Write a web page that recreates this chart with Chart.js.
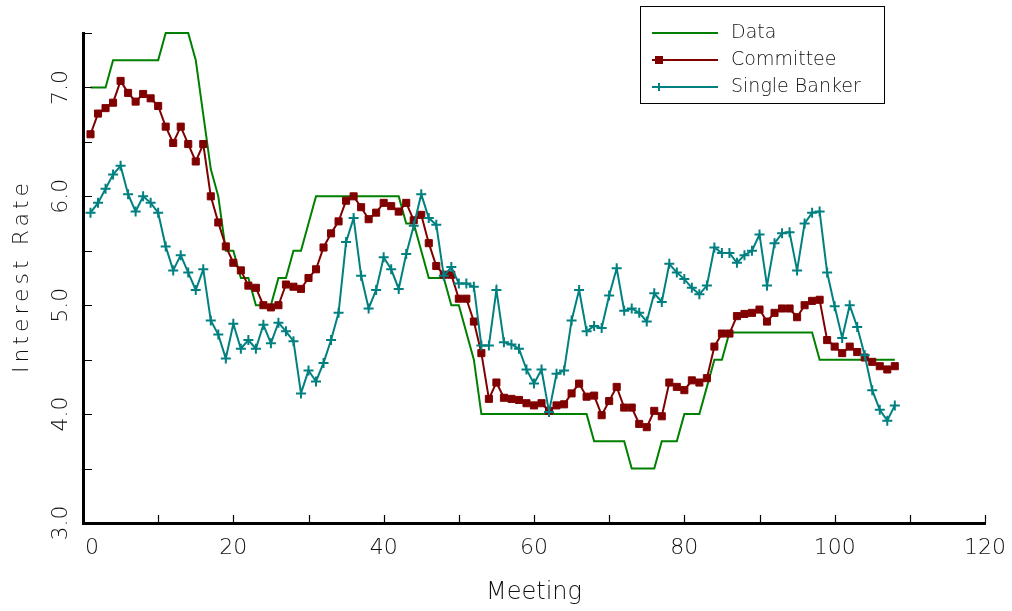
<!DOCTYPE html>
<html>
<head>
<meta charset="utf-8">
<script src="https://cdn.jsdelivr.net/npm/chart.js@4/dist/chart.umd.min.js"></script>
<style>
  html, body { margin: 0; padding: 0; background: #fff; }
  #wrap { width: 1012px; height: 611px; }
</style>
</head>
<body>
<div id="wrap"><canvas id="rates" width="1012" height="611"></canvas></div>
<script>
// meetings 1..108
var meetings = [];
for (var i = 1; i <= 108; i++) meetings.push(i);

var dataRate = [
  7.0, 7.0, 7.0, 7.25, 7.25, 7.25, 7.25, 7.25, 7.25, 7.25,
  7.5, 7.5, 7.5, 7.5, 7.25, 6.75, 6.25, 6.0, 5.5, 5.5,
  5.25, 5.25, 5.0, 5.0, 5.0, 5.25, 5.25, 5.5, 5.5, 5.75,
  6.0, 6.0, 6.0, 6.0, 6.0, 6.0, 6.0, 6.0, 6.0, 6.0,
  6.0, 6.0, 5.75, 5.75, 5.5, 5.25, 5.25, 5.25, 5.0, 5.0,
  4.75, 4.5, 4.0, 4.0, 4.0, 4.0, 4.0, 4.0, 4.0, 4.0,
  4.0, 4.0, 4.0, 4.0, 4.0, 4.0, 4.0, 3.75, 3.75, 3.75,
  3.75, 3.75, 3.5, 3.5, 3.5, 3.5, 3.75, 3.75, 3.75, 4.0,
  4.0, 4.0, 4.25, 4.5, 4.5, 4.75, 4.75, 4.75, 4.75, 4.75,
  4.75, 4.75, 4.75, 4.75, 4.75, 4.75, 4.75, 4.5, 4.5, 4.5,
  4.5, 4.5, 4.5, 4.5, 4.5, 4.5, 4.5, 4.5
];

var committee = [
  6.57, 6.76, 6.81, 6.86, 7.06, 6.95, 6.87, 6.94, 6.90, 6.83,
  6.64, 6.49, 6.64, 6.48, 6.32, 6.48, 6.00, 5.76, 5.54, 5.39,
  5.32, 5.18, 5.16, 5.00, 4.98, 5.00, 5.19, 5.17, 5.15, 5.25,
  5.33, 5.53, 5.66, 5.77, 5.96, 6.00, 5.90, 5.79, 5.85, 5.94,
  5.91, 5.86, 5.94, 5.78, 5.83, 5.57, 5.36, 5.28, 5.28, 5.06,
  5.06, 4.85, 4.56, 4.14, 4.29, 4.15, 4.14, 4.13, 4.10, 4.08,
  4.10, 4.03, 4.08, 4.09, 4.19, 4.28, 4.16, 4.17, 3.99, 4.12,
  4.25, 4.06, 4.06, 3.91, 3.88, 4.03, 3.98, 4.29, 4.25, 4.22,
  4.31, 4.29, 4.33, 4.62, 4.74, 4.74, 4.90, 4.92, 4.93, 4.96,
  4.85, 4.93, 4.97, 4.97, 4.89, 5.00, 5.04, 5.05, 4.68, 4.62,
  4.56, 4.62, 4.57, 4.52, 4.48, 4.44, 4.41, 4.44
];

var singleBanker = [
  5.85, 5.94, 6.07, 6.20, 6.28, 6.02, 5.86, 6.00, 5.94, 5.85,
  5.54, 5.32, 5.46, 5.30, 5.14, 5.33, 4.86, 4.73, 4.51, 4.83,
  4.60, 4.68, 4.60, 4.82, 4.65, 4.84, 4.76, 4.67, 4.19, 4.40,
  4.30, 4.47, 4.68, 4.93, 5.58, 5.80, 5.27, 4.97, 5.14, 5.44,
  5.33, 5.15, 5.47, 5.73, 6.02, 5.80, 5.74, 5.27, 5.35, 5.20,
  5.20, 5.17, 4.63, 4.63, 5.14, 4.66, 4.64, 4.60, 4.41, 4.28,
  4.41, 4.02, 4.37, 4.40, 4.86, 5.14, 4.76, 4.81, 4.79, 5.09,
  5.34, 4.95, 4.97, 4.93, 4.85, 5.11, 5.03, 5.38, 5.30, 5.24,
  5.16, 5.10, 5.18, 5.53, 5.48, 5.48, 5.39, 5.46, 5.50, 5.65,
  5.18, 5.57, 5.66, 5.67, 5.32, 5.75, 5.85, 5.86, 5.30, 4.99,
  4.70, 5.00, 4.80, 4.54, 4.22, 4.04, 3.94, 4.08
];

var seriesNames = ["Data", "Committee", "Single Banker"];
var xTickLabels = [0, 20, 40, 60, 80, 100, 120];
var yTickLabels = [3.0, 4.0, 5.0, 6.0, 7.0];

var GREEN = "#008000", RED = "#800000", TEAL = "#008080", INK = "#111";
var FAMILY = "'DejaVu Sans', sans-serif";

function toPoints(values) {
  return values.map(function (v, i) { return { x: meetings[i], y: v }; });
}

// inward tick marks, tick labels, y title and the boxed legend
var axisDecor = {
  id: "axisDecor",
  afterDraw: function (chart) {
    var ctx = chart.ctx, area = chart.chartArea;
    var xs = chart.scales.x, ys = chart.scales.y;
    ctx.save();
    ctx.strokeStyle = "#000";
    ctx.lineWidth = 1.2;
    ctx.beginPath();
    for (var v = 3.5; v <= 7.51; v += 0.5) {
      var py = Math.round(ys.getPixelForValue(v)) + 0.5;
      ctx.moveTo(area.left, py);
      ctx.lineTo(area.left + 9, py);
    }
    for (var m = 10; m <= 120; m += 10) {
      var px = Math.round(xs.getPixelForValue(m)) + 0.5;
      ctx.moveTo(px, area.bottom);
      ctx.lineTo(px, area.bottom - 8);
    }
    ctx.stroke();

    ctx.fillStyle = INK;
    ctx.font = "200 22px " + FAMILY;
    ctx.textAlign = "center";
    ctx.textBaseline = "middle";
    yTickLabels.forEach(function (val) {
      ctx.save();
      ctx.translate(61, ys.getPixelForValue(val));
      ctx.rotate(-Math.PI / 2);
      ctx.fillText(val.toFixed(1), 0, 0);
      ctx.restore();
    });
    xTickLabels.forEach(function (val) {
      var shift = val === 0 ? 9 : 0;   // the 0 sits clear of the y axis
      ctx.fillText(String(val), xs.getPixelForValue(val) + shift, 548);
    });

    // y axis title, spaced out like the original
    ctx.save();
    ctx.font = "200 22px " + FAMILY;
    ctx.letterSpacing = "4px";
    ctx.translate(22, (area.top + area.bottom) / 2);
    ctx.rotate(-Math.PI / 2);
    ctx.fillText("Interest Rate", 2, 0);
    ctx.restore();

    // legend
    ctx.lineWidth = 1;
    ctx.strokeStyle = "#000";
    ctx.strokeRect(640.5, 6.5, 244, 97);
    var colors = [GREEN, RED, TEAL];
    var rows = [33, 60, 87];
    ctx.font = "200 19px " + FAMILY;
    ctx.textAlign = "left";
    for (var k = 0; k < 3; k++) {
      ctx.strokeStyle = colors[k];
      ctx.lineWidth = 2;
      ctx.beginPath();
      ctx.moveTo(652, rows[k]);
      ctx.lineTo(718, rows[k]);
      ctx.stroke();
      ctx.fillStyle = INK;
      ctx.fillText(seriesNames[k], 731, rows[k]);
    }
    ctx.fillStyle = RED;
    ctx.fillRect(655, rows[1] - 4, 8, 8);
    ctx.strokeStyle = TEAL;
    ctx.beginPath();
    ctx.moveTo(659, rows[2] - 4); ctx.lineTo(659, rows[2] + 4);
    ctx.moveTo(655, rows[2]); ctx.lineTo(663, rows[2]);
    ctx.stroke();
    ctx.restore();
  }
};

new Chart(document.getElementById("rates"), {
  type: "line",
  data: {
    datasets: [
      {
        label: seriesNames[0], data: toPoints(dataRate),
        borderColor: GREEN, borderWidth: 2, pointRadius: 0,
        order: 3, clip: false
      },
      {
        label: seriesNames[1], data: toPoints(committee),
        borderColor: RED, borderWidth: 2,
        pointStyle: "rect", pointRadius: 5, pointBorderWidth: 1,
        pointBackgroundColor: RED, pointBorderColor: RED,
        order: 2, clip: false
      },
      {
        label: seriesNames[2], data: toPoints(singleBanker),
        borderColor: TEAL, borderWidth: 2,
        pointStyle: "cross", pointRadius: 5, pointBorderWidth: 2,
        pointBorderColor: TEAL, pointBackgroundColor: TEAL,
        order: 1, clip: false
      }
    ]
  },
  options: {
    responsive: false,
    animation: false,
    layout: { padding: { top: 33, right: 27, left: 0, bottom: 0 } },
    plugins: { legend: { display: false }, tooltip: { enabled: false } },
    scales: {
      x: {
        type: "linear", min: 0, max: 120,
        grid: { display: false, drawTicks: false },
        border: { display: true, color: "#000", width: 3 },
        ticks: { display: false, stepSize: 20 },
        title: {
          display: true, text: "Meeting", color: INK,
          font: { family: FAMILY, size: 24, weight: 200 },
          padding: { top: 0, bottom: 4 }
        },
        afterFit: function (scale) {
          scale.height = 88;
          scale.paddingLeft = 0;
          scale.paddingRight = 0;
        }
      },
      y: {
        min: 3, max: 7.5,
        grid: { display: false, drawTicks: false },
        border: { display: true, color: "#000", width: 3 },
        ticks: { display: false, stepSize: 0.5 },
        afterFit: function (scale) { scale.width = 83; }
      }
    }
  },
  plugins: [axisDecor]
});
</script>
</body>
</html>
